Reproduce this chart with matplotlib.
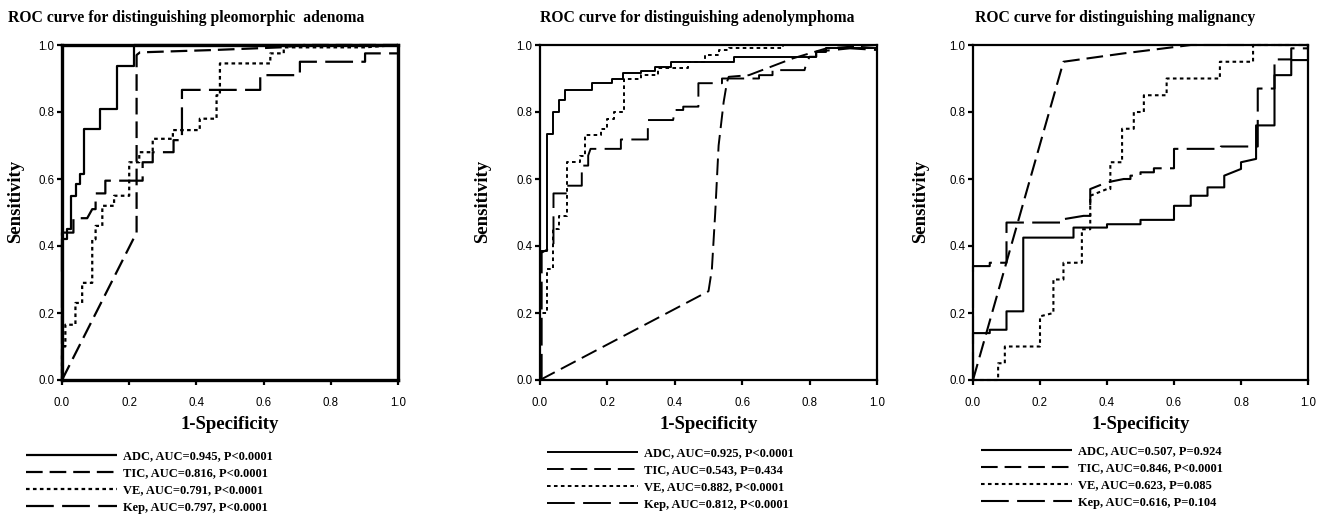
import matplotlib
matplotlib.use("Agg")
import matplotlib.pyplot as plt

plt.rcParams['lines.scale_dashes'] = False

# ---------------- data (ROC curve vertices: 1-Specificity, Sensitivity) -------------
titles = ["ROC curve for distinguishing pleomorphic  adenoma",
          "ROC curve for distinguishing adenolymphoma",
          "ROC curve for distinguishing malignancy"]
xlabel_text = "1-Specificity"
ylabel_text = "Sensitivity"
ticks = [0.0, 0.2, 0.4, 0.6, 0.8, 1.0]
tick_labels = ["0.0", "0.2", "0.4", "0.6", "0.8", "1.0"]
series_names = ["ADC", "TIC", "VE", "Kep"]

# Panel 1: pleomorphic adenoma
p1_adc_x = [0, 0, 0.015, 0.015, 0.028, 0.028, 0.043, 0.043, 0.053, 0.053, 0.064, 0.064,
            0.114, 0.114, 0.164, 0.164, 0.213, 0.213, 1.0]
p1_adc_y = [0, 0.42, 0.42, 0.45, 0.45, 0.55, 0.55, 0.585, 0.585, 0.615, 0.615, 0.748,
            0.748, 0.809, 0.809, 0.937, 0.937, 1.0, 1.0]
p1_tic_x = [0, 0.222, 0.222, 0.232, 0.45, 0.65, 0.72, 1.0]
p1_tic_y = [0, 0.44, 0.97, 0.978, 0.985, 0.993, 1.0, 1.0]
p1_ve_x = [0, 0, 0.01, 0.01, 0.04, 0.04, 0.06, 0.06, 0.09, 0.09, 0.10, 0.10, 0.12, 0.12,
           0.155, 0.155, 0.20, 0.20, 0.23, 0.23, 0.27, 0.27, 0.33, 0.33, 0.41, 0.41,
           0.46, 0.46, 0.47, 0.47, 0.62, 0.62, 0.66, 0.66, 0.9, 1.0]
p1_ve_y = [0, 0.10, 0.10, 0.165, 0.165, 0.23, 0.23, 0.29, 0.29, 0.42, 0.42, 0.46, 0.46, 0.52,
           0.52, 0.55, 0.55, 0.65, 0.65, 0.68, 0.68, 0.72, 0.72, 0.746, 0.746, 0.78,
           0.78, 0.85, 0.85, 0.945, 0.945, 0.975, 0.975, 0.993, 0.993, 1.0]
p1_kep_x = [0, 0, 0.034, 0.034, 0.075, 0.09, 0.10, 0.10, 0.129, 0.129, 0.24, 0.24, 0.27, 0.27,
            0.332, 0.332, 0.357, 0.357, 0.59, 0.59, 0.708, 0.708, 0.902, 0.902, 1.0]
p1_kep_y = [0, 0.44, 0.44, 0.483, 0.483, 0.51, 0.51, 0.557, 0.557, 0.595, 0.595, 0.65, 0.65, 0.68,
            0.68, 0.716, 0.716, 0.866, 0.866, 0.91, 0.91, 0.95, 0.95, 0.975, 0.975]
p1_labels = ["ADC, AUC=0.945, P<0.0001", "TIC, AUC=0.816, P<0.0001",
             "VE, AUC=0.791, P<0.0001", "Kep, AUC=0.797, P<0.0001"]

# Panel 2: adenolymphoma
p2_adc_x = [0, 0, 0.022, 0.022, 0.04, 0.04, 0.056, 0.056, 0.074, 0.074, 0.153, 0.153, 0.213, 0.213,
            0.247, 0.247, 0.30, 0.30, 0.34, 0.34, 0.39, 0.39, 0.575, 0.575, 0.82, 0.82, 0.85, 0.85, 1.0]
p2_adc_y = [0, 0.385, 0.385, 0.733, 0.733, 0.80, 0.80, 0.836, 0.836, 0.867, 0.867, 0.887, 0.887, 0.90,
            0.90, 0.915, 0.915, 0.922, 0.922, 0.935, 0.935, 0.948, 0.948, 0.965, 0.965, 0.978, 0.978, 0.99, 0.99]
p2_tic_x = [0, 0.50, 0.51, 0.52, 0.53, 0.545, 0.555, 0.56, 0.62, 0.75, 0.85, 1.0]
p2_tic_y = [0, 0.265, 0.33, 0.50, 0.70, 0.83, 0.89, 0.905, 0.91, 0.96, 0.99, 1.0]
p2_ve_x = [0, 0, 0.02, 0.02, 0.04, 0.04, 0.055, 0.055, 0.08, 0.08, 0.12, 0.12, 0.135, 0.135,
           0.18, 0.18, 0.20, 0.20, 0.22, 0.22, 0.25, 0.25, 0.30, 0.30, 0.35, 0.35, 0.44, 0.44,
           0.49, 0.49, 0.53, 0.53, 0.56, 0.56, 0.72, 0.72, 1.0]
p2_ve_y = [0, 0.20, 0.20, 0.33, 0.33, 0.45, 0.45, 0.49, 0.49, 0.65, 0.65, 0.67, 0.67, 0.73,
           0.73, 0.75, 0.75, 0.78, 0.78, 0.80, 0.80, 0.90, 0.90, 0.91, 0.91, 0.93, 0.93, 0.95,
           0.95, 0.97, 0.97, 0.985, 0.985, 0.99, 0.99, 1.0, 1.0]
p2_kep_x = [0, 0.005, 0.005, 0.04, 0.04, 0.08, 0.08, 0.124, 0.124, 0.143, 0.143, 0.15, 0.24, 0.24,
            0.32, 0.32, 0.395, 0.40, 0.425, 0.425, 0.47, 0.47, 0.54, 0.54, 0.65, 0.65, 0.69, 0.69,
            0.785, 0.79, 0.80, 0.82, 0.82, 0.92, 1.0]
p2_kep_y = [0, 0, 0.38, 0.40, 0.557, 0.557, 0.58, 0.58, 0.64, 0.64, 0.67, 0.69, 0.69, 0.718,
            0.718, 0.776, 0.776, 0.806, 0.806, 0.816, 0.816, 0.886, 0.886, 0.90, 0.90, 0.91, 0.91, 0.925,
            0.925, 0.945, 0.965, 0.965, 0.98, 0.99, 0.985]
p2_labels = ["ADC, AUC=0.925, P<0.0001", "TIC, AUC=0.543, P=0.434",
             "VE, AUC=0.882, P<0.0001", "Kep, AUC=0.812, P<0.0001"]

# Panel 3: malignancy
p3_adc_x = [0, 0, 0.05, 0.05, 0.10, 0.10, 0.15, 0.15, 0.30, 0.30, 0.40, 0.40, 0.50, 0.50, 0.60, 0.60,
            0.65, 0.65, 0.70, 0.70, 0.75, 0.75, 0.80, 0.80, 0.845, 0.845, 0.90, 0.90, 0.95, 0.95, 1.0, 1.0]
p3_adc_y = [0, 0.14, 0.14, 0.15, 0.15, 0.205, 0.205, 0.425, 0.425, 0.455, 0.455, 0.465, 0.465, 0.478,
            0.478, 0.52, 0.52, 0.55, 0.55, 0.575, 0.575, 0.61, 0.63, 0.65, 0.66, 0.76, 0.76, 0.91, 0.91,
            0.955, 0.955, 1.0]
p3_tic_x = [0, 0.27, 0.45, 0.65, 1.0]
p3_tic_y = [0, 0.95, 0.975, 1.0, 1.0]
p3_ve_x = [0, 0.075, 0.075, 0.095, 0.095, 0.20, 0.20, 0.24, 0.24, 0.27, 0.27, 0.325, 0.325, 0.35,
           0.35, 0.40, 0.41, 0.41, 0.445, 0.445, 0.48, 0.48, 0.51, 0.51, 0.578, 0.578, 0.737, 0.737,
           0.836, 0.836, 1.0]
p3_ve_y = [0, 0, 0.05, 0.05, 0.10, 0.10, 0.19, 0.20, 0.30, 0.30, 0.35, 0.35, 0.45, 0.45,
           0.55, 0.57, 0.57, 0.65, 0.65, 0.75, 0.75, 0.80, 0.80, 0.85, 0.85, 0.90, 0.90, 0.95,
           0.95, 1.0, 1.0]
p3_kep_x = [0, 0, 0.05, 0.05, 0.10, 0.10, 0.27, 0.27, 0.33, 0.35, 0.35, 0.40, 0.45, 0.47, 0.47,
            0.50, 0.50, 0.54, 0.54, 0.60, 0.60, 0.74, 0.74, 0.85, 0.85, 0.90, 0.90, 0.95, 0.95, 1.0, 1.0]
p3_kep_y = [0, 0.34, 0.34, 0.35, 0.35, 0.47, 0.47, 0.48, 0.49, 0.49, 0.57, 0.59, 0.60, 0.60, 0.61,
            0.61, 0.62, 0.62, 0.632, 0.632, 0.69, 0.69, 0.697, 0.697, 0.87, 0.87, 0.957, 0.957, 0.99,
            0.99, 1.0]
p3_labels = ["ADC, AUC=0.507, P=0.924", "TIC, AUC=0.846, P<0.0001",
             "VE, AUC=0.623, P=0.085", "Kep, AUC=0.616, P=0.104"]

panels = [
    ([(p1_adc_x, p1_adc_y), (p1_tic_x, p1_tic_y), (p1_ve_x, p1_ve_y), (p1_kep_x, p1_kep_y)], p1_labels),
    ([(p2_adc_x, p2_adc_y), (p2_tic_x, p2_tic_y), (p2_ve_x, p2_ve_y), (p2_kep_x, p2_kep_y)], p2_labels),
    ([(p3_adc_x, p3_adc_y), (p3_tic_x, p3_tic_y), (p3_ve_x, p3_ve_y), (p3_kep_x, p3_kep_y)], p3_labels),
]

# ---------------- styling ----------------
W, H = 1328, 517
styles = [(0, ()), (0, (12, 5)), (0, (2.6, 2.4)), (0, (20, 6))]
axes_px = [(62, 398), (540, 877), (973, 1308)]
ax_top, ax_bot = 45, 380
spine_w = [2.4, 1.6, 1.6]
line_w = [1.6, 1.4, 1.5]
title_x = [8, 540, 975]
ylab_x = [16, 483, 921]
leg_x = [26, 547, 981]
leg_top = [450, 447, 445]

serif = "Liberation Serif"
sans = "Liberation Sans"

fig = plt.figure(figsize=(W / 100, H / 100), dpi=100)
fig.patch.set_facecolor("white")

for i, (curves, labels) in enumerate(panels):
    l, r = axes_px[i]
    ax = fig.add_axes([l / W, 1 - ax_bot / H, (r - l) / W, (ax_bot - ax_top) / H])
    handles = []
    for (xs, ys), ls, lab in zip(curves, styles, labels):
        h, = ax.plot(xs, ys, color="black", lw=line_w[i], linestyle=ls, clip_on=False,
                     label=lab, solid_joinstyle="miter", dash_capstyle="butt")
        handles.append(h)
    ax.set_xlim(0, 1)
    ax.set_ylim(0, 1)
    ax.set_xticks(ticks)
    ax.set_yticks(ticks)
    ax.set_xticklabels(tick_labels, fontfamily=sans, fontsize=8.3)
    ax.set_yticklabels(tick_labels, fontfamily=sans, fontsize=8.3)
    ax.tick_params(direction="out", length=3.5, width=1.6, pad=9, color="black")
    ax.tick_params(axis="y", pad=2)
    for s in ax.spines.values():
        s.set_linewidth(spine_w[i])
        s.set_color("black")
    ax.set_xlabel(xlabel_text, fontfamily=serif, fontweight="bold", fontsize=13.5, labelpad=5)
    fig.text(title_x[i] / W, 1 - 18 / H, titles[i], fontfamily=serif, fontweight="bold",
             fontsize=11.3, ha="left", va="center")
    fig.text(ylab_x[i] / W, 1 - 201 / H, ylabel_text, fontfamily=serif, fontweight="bold",
             fontsize=13.5, rotation=90, ha="center", va="center")
    leg = fig.legend(handles=handles, loc="upper left",
                     bbox_to_anchor=(leg_x[i] / W, 1 - leg_top[i] / H),
                     frameon=False, handlelength=7.3, handletextpad=0.45, labelspacing=0.42,
                     borderpad=0, borderaxespad=0,
                     prop={"family": serif, "weight": "bold", "size": 9})

fig.savefig("out.png", dpi=100, facecolor="white")
